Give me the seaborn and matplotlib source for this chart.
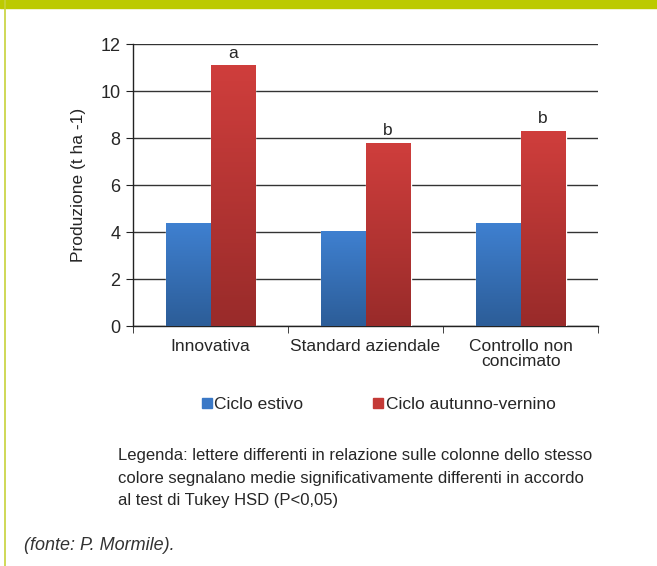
import numpy as np
import pandas as pd
import seaborn as sns
import matplotlib.pyplot as plt
from matplotlib.colors import LinearSegmentedColormap
from matplotlib.lines import Line2D
from matplotlib.patches import Rectangle

categories = ['Innovativa', 'Standard aziendale', 'Controllo non\nconcimato']
series = ['Ciclo estivo', 'Ciclo autunno-vernino']
estivo = [4.38, 4.03, 4.38]
autunno = [11.1, 7.8, 8.3]
letters = ['a', 'b', 'b']

sns.set_style('white')
plt.rcParams['font.family'] = ['Liberation Sans', 'DejaVu Sans']

df = pd.DataFrame({
    'cat': categories * 2,
    'serie': [series[0]] * 3 + [series[1]] * 3,
    'val': estivo + autunno,
})

fig = plt.figure(figsize=(6.57, 5.66), dpi=100)
ax = fig.add_axes([0.2024, 0.424, 0.708, 0.498])

pal = {series[0]: '#3a78c6', series[1]: '#c43a37'}
sns.barplot(data=df, x='cat', y='val', hue='serie', palette=pal, width=0.58,
            ax=ax, legend=False, saturation=1)

# gradient fills
grads = {series[0]: ('#3f80d0', '#2c5d98'), series[1]: ('#cf3e3c', '#992b2a')}
for cont, s in zip(ax.containers, series):
    cmap = LinearSegmentedColormap.from_list(s, [grads[s][1], grads[s][0]])
    for p in cont:
        x0, y0 = p.get_x(), p.get_y()
        w, h = p.get_width(), p.get_height()
        grad = np.linspace(0, 1, 100).reshape(-1, 1)
        im = ax.imshow(grad, extent=[x0, x0 + w, y0, y0 + h], origin='lower',
                       cmap=cmap, aspect='auto', zorder=3)
        im.set_clip_path(p)
        p.set_zorder(3)
        p.set_facecolor('none')

for i, (v, l) in enumerate(zip(autunno, letters)):
    xr = ax.containers[1][i].get_x() + ax.containers[1][i].get_width() / 2
    ax.text(xr, v + 0.2, l, ha='center', va='bottom', fontsize=12.5)

ax.set_xlim(-0.5, 2.5)
ax.set_ylim(0, 12)
ax.set_yticks(range(0, 13, 2))
ax.yaxis.grid(True, color='#333333', linewidth=1)
ax.set_axisbelow(True)
for s in ['top', 'right']:
    ax.spines[s].set_visible(False)
for s in ['left', 'bottom']:
    ax.spines[s].set_color('#222222')
    ax.spines[s].set_linewidth(1)
ax.tick_params(axis='y', which='major', left=True, length=5, color='#222222',
               labelsize=13, pad=4)
ax.tick_params(axis='x', which='major', length=0, labelsize=12.5, pad=9)
ax.set_xticks([-0.5, 0.5, 1.5, 2.5], minor=True)
ax.tick_params(axis='x', which='minor', bottom=True, length=5, color='#222222')
ax.set_xlabel('')
ax.set_ylabel('Produzione (t ha -1)', fontsize=12.5, labelpad=10)
for t in ax.get_xticklabels():
    t.set_linespacing(1.0)

handles = [Line2D([], [], marker='s', linestyle='none', markersize=7,
                  markerfacecolor=pal[s], markeredgecolor=pal[s]) for s in series]
fig.legend(handles, series, loc='center', bbox_to_anchor=(0.575, 0.285), ncol=2,
           frameon=False, fontsize=12.5, handletextpad=0.05, columnspacing=3.9,
           handlelength=0.8)

fig.text(118 / 657, 1 - 478 / 566,
         'Legenda: lettere differenti in relazione sulle colonne dello stesso\n'
         'colore segnalano medie significativamente differenti in accordo\n'
         'al test di Tukey HSD (P<0,05)',
         fontsize=12, va='center', ha='left', linespacing=1.62)
fig.text(24 / 657, 1 - 545 / 566, '(fonte: P. Mormile).', fontsize=13,
         style='italic', va='center', ha='left', color='#333333')

# frame decoration
fig.add_artist(Rectangle((0, 1 - 8 / 566), 1, 8 / 566, transform=fig.transFigure,
                         color='#bcca00', zorder=0))
fig.add_artist(Line2D([4.5 / 657, 4.5 / 657], [0, 1], transform=fig.transFigure,
                      color='#c7d23a', linewidth=1.2))

fig.savefig('out.png', dpi=100)
